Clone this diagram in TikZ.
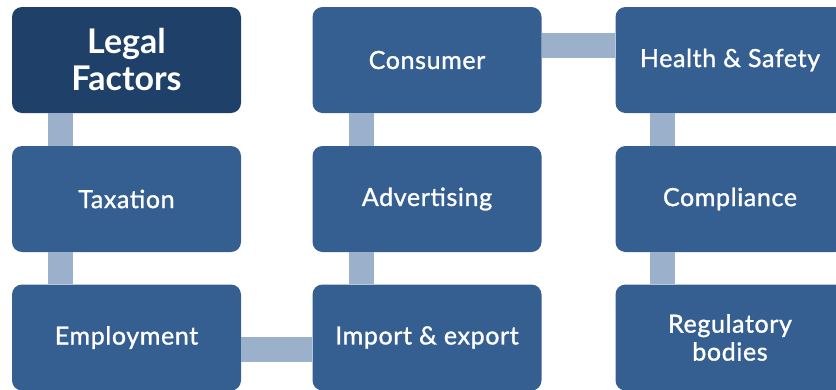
\documentclass[tikz,border=0pt]{standalone}
\usepackage{fontspec}
\setmainfont{Lato}
\newfontfamily\boxfont[FakeBold=1.2,LetterSpace=2.5]{Lato}
\definecolor{titleblue}{HTML}{1F4068}
\definecolor{boxblue}{HTML}{365F91}
\definecolor{linkblue}{HTML}{9BB0CA}
\tikzset{
	factor/.style={fill=boxblue, rounded corners=10pt, minimum width=229pt, minimum height=106pt,
		inner sep=0pt, text=white, align=center, font=\boxfont\fontsize{25}{28}\selectfont},
	title/.style={factor, fill=titleblue, font=\fontsize{34}{37}\selectfont\bfseries},
	link/.style={linkblue, line width=25pt}
}
\begin{document}
\begin{tikzpicture}[x=1pt,y=-1pt]
		\useasboundingbox (0,0) rectangle (836,389);
		\clip (0,0) rectangle (836,389);
		
		\node[title] (legal) at (126.5,60) {Legal\\Factors};
		\node[factor] (tax) at (126.5,199) {Taxation};
		\node[factor] (emp) at (126.5,337.5) {Employment};
		
		\node[factor] (cons) at (427,60) {Consumer};
		\node[factor] (adv) at (427,199) {Advertising};
		\node[factor] (imp) at (427,337.5) {Import \& export};
		
		\node[factor] (health) at (730,60) {Health \& Safety};
		\node[factor] (comp) at (730,199) {Compliance};
		\node[factor] (reg) at (730,337.5) {Regulatory\\bodies};
		
		\draw[link] ([xshift=-66pt]legal.south) -- ([xshift=-66pt]tax.north);
		\draw[link] ([xshift=-66pt]tax.south) -- ([xshift=-66pt]emp.north);
		\draw[link] ([yshift=-12pt]emp.east) -- ([yshift=-12pt]imp.west);
		\draw[link] ([xshift=-66pt]imp.north) -- ([xshift=-66pt]adv.south);
		\draw[link] ([xshift=-66pt]adv.north) -- ([xshift=-66pt]cons.south);
		\draw[link] ([yshift=15pt]cons.east) -- ([yshift=15pt]health.west);
		\draw[link] ([xshift=-68pt]health.south) -- ([xshift=-68pt]comp.north);
		\draw[link] ([xshift=-68pt]comp.south) -- ([xshift=-68pt]reg.north);
	\end{tikzpicture}
\end{document}
